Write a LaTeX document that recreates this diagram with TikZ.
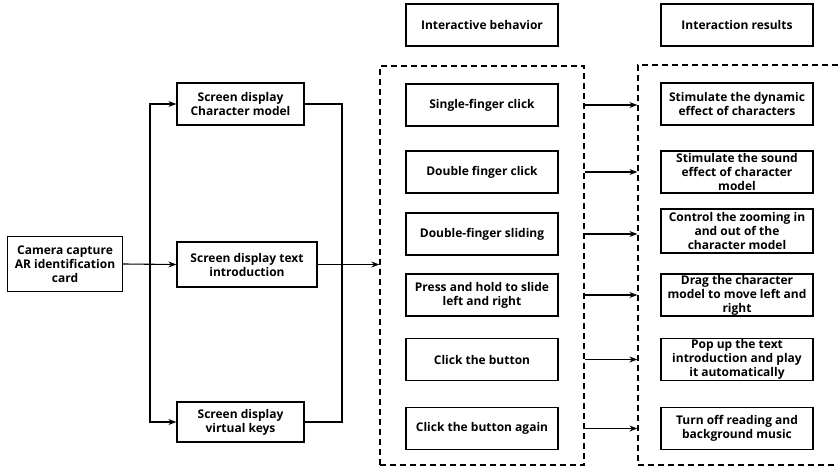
\documentclass[tikz,border=0pt]{standalone}
\usepackage{fontspec}
\setmainfont{Open Sans}
\usepackage{tikz}
\usetikzlibrary{calc, positioning, arrows.meta}

\begin{document}
\begin{tikzpicture}[>=Stealth, x=1pt, y=-1pt,
    font=\fontsize{12}{14}\selectfont\bfseries,
    box/.style={draw, line width=1.3pt, align=center, inner sep=1pt,
      minimum width=152pt, minimum height=42pt},
    grp/.style={draw, line width=1.3pt, dash pattern=on 6pt off 4pt},
    link/.style={line width=1.1pt}]
  \useasboundingbox (0,0) rectangle (838,468);

  % source and screen outputs
  \node[box, minimum width=115pt, minimum height=55pt] (cam) at (65,264)
    {Camera capture\\AR identification\\card};
  \node[box, minimum width=127pt] (scr1) at (240.5,104) {Screen display\\Character model};
  \node[box, minimum width=140pt, minimum height=45pt] (scr2) at (247,264.5)
    {Screen display text\\introduction};
  \node[box, minimum width=127pt, minimum height=40pt] (scr3) at (240.5,422)
    {Screen display\\virtual keys};

  % column headers
  \node[box] (beh) at (482,25) {Interactive behavior};
  \node[box] (res) at (737,25) {Interaction results};

  % dashed groups
  \node[grp, minimum width=204pt, minimum height=399pt] (grp1) at (482,265.5) {};
  \node[grp, minimum width=230pt, minimum height=400pt] (grp2) at (753,265) {};

  % interactive behavior
  \node[box] (b1) at (482,105) {Single-finger click};
  \node[box] (b2) at (482,172) {Double finger click};
  \node[box] (b3) at (482,234) {Double-finger sliding};
  \node[box] (b4) at (482,295) {Press and hold to slide\\left and right};
  \node[box] (b5) at (482,359.5) {Click the button};
  \node[box] (b6) at (482,428.5) {Click the button again};

  % interaction results
  \node[box] (r1) at (737,104) {Stimulate the dynamic\\effect of characters};
  \node[box, inner sep=0pt] (r2) at (737,172) {Stimulate the sound\\effect of character\\model};
  \node[box, inner sep=0pt, minimum height=44pt] (r3) at (737,231) {Control the zooming in\\and out of the\\character model};
  \node[box, inner sep=0pt] (r4) at (737,295) {Drag the character\\model to move left and\\right};
  \node[box, inner sep=0pt] (r5) at (737,359.5) {Pop up the text\\introduction and play\\it automatically};
  \node[box] (r6) at (737,428.5) {Turn off reading and\\background music};

  % connectors
  \coordinate (split) at (150,264);
  \coordinate (join) at (342,264);
  \draw[link, ->] (cam.east) -- (scr2.west);
  \draw[link, ->] (split) |- (scr1.west);
  \draw[link, ->] (split) |- (scr3.west);
  \draw[link] (scr1.east) -| (join);
  \draw[link] (scr3.east) -| (join);
  \draw[link, ->] (scr2.east) -- (scr2.east -| grp1.west);
  \foreach \i in {1,...,6}
    \draw[link, ->] (b\i.east -| grp1.east) -- (b\i.east -| grp2.west);
\end{tikzpicture}
\end{document}
